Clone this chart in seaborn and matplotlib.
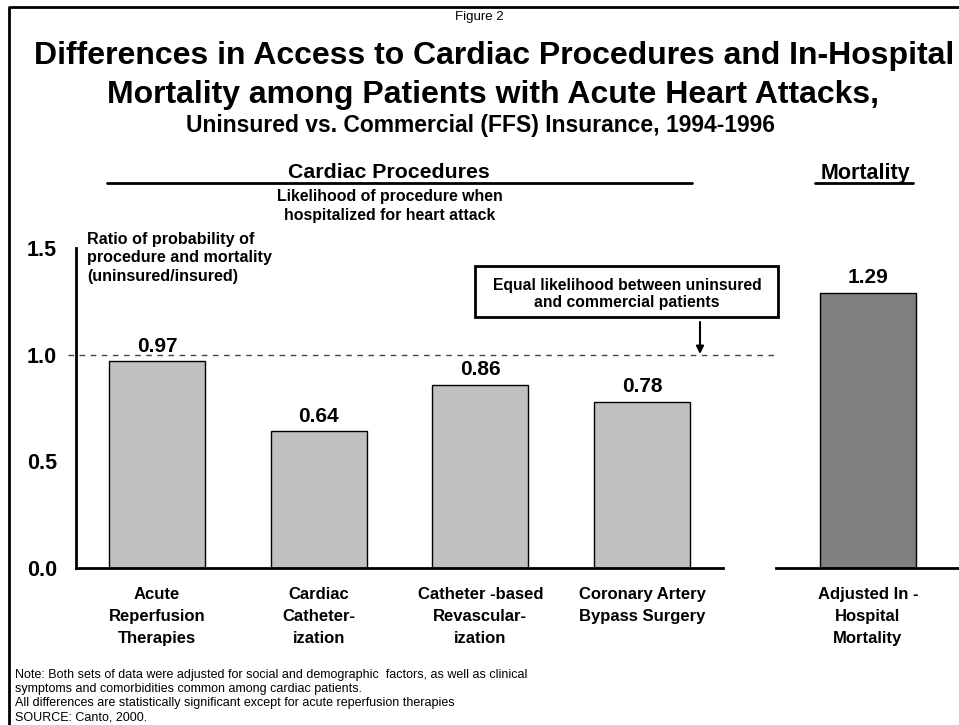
import matplotlib.pyplot as plt
import seaborn as sns
from matplotlib.lines import Line2D
from matplotlib.patches import Rectangle
from matplotlib.transforms import blended_transform_factory

# data
procedures = ['Acute\nReperfusion\nTherapies', 'Cardiac\nCatheter-\nization',
              'Catheter -based\nRevascular-\nization', 'Coronary Artery\nBypass Surgery']
procedure_ratio = [0.97, 0.64, 0.86, 0.78]
mortality = ['Adjusted In -\nHospital\nMortality']
mortality_ratio = [1.29]
y_ticks = [0.0, 0.5, 1.0, 1.5]
notes = ['Note: Both sets of data were adjusted for social and demographic  factors, as well as clinical',
         'symptoms and comorbidities common among cardiac patients.',
         'All differences are statistically significant except for acute reperfusion therapies',
         'SOURCE: Canto, 2000.']

sns.set_style('white')
plt.rcParams['font.family'] = ['Liberation Sans', 'DejaVu Sans']
plt.rcParams['text.color'] = 'black'
plt.rcParams['xtick.color'] = 'black'
plt.rcParams['ytick.color'] = 'black'

W, H = 959, 725
fig = plt.figure(figsize=(W / 100, H / 100), dpi=100)


def fx(x):
    return x / W


def fy(y):
    return 1 - y / H


# axes placed in pixel positions
ax1 = fig.add_axes([fx(76), fy(568), fx(723) - fx(76), fy(248) - fy(568)])
ax2 = fig.add_axes([fx(776), fy(568), fx(959) - fx(776), fy(248) - fy(568)])

sns.barplot(x=procedures, y=procedure_ratio, color='#C0C0C0', edgecolor='black',
            linewidth=1, width=0.593, saturation=1, ax=ax1)
sns.barplot(x=mortality, y=mortality_ratio, color='#808080', edgecolor='black',
            linewidth=1, width=0.593, saturation=1, ax=ax2)

for ax in (ax1, ax2):
    ax.set_ylim(0, 1.5)
    for side in ['top', 'right']:
        ax.spines[side].set_visible(False)
    ax.spines['bottom'].set_linewidth(2)
    ax.spines['bottom'].set_color('black')
    ax.tick_params(axis='x', length=0, pad=14)
    for lbl in ax.get_xticklabels():
        lbl.set_fontsize(12)
        lbl.set_fontweight('bold')
        lbl.set_linespacing(1.55)
    ax.bar_label(ax.containers[0], fmt='%.2f', padding=4, fontsize=15, fontweight='bold')
    ax.set_ylabel('')

ax1.set_xlim(-0.5, 3.5)
ax2.set_xlim(-0.568, 0.562)
ax2.spines['left'].set_visible(False)
ax2.set_yticks([])

ax1.spines['left'].set_linewidth(2)
ax1.spines['left'].set_color('black')
ax1.set_yticks(y_ticks)
ax1.set_yticklabels([f'{v:.1f}' for v in y_ticks], fontsize=15.5, fontweight='bold')
ax1.tick_params(axis='y', length=0, pad=13.5)

# dashed reference line at 1.0 across both panels
tr = blended_transform_factory(fig.transFigure, ax1.transData)
ax1.add_line(Line2D([fx(68), fx(948)], [1.0, 1.0], transform=tr, color='#444444',
                    linewidth=1, dashes=(4, 4), clip_on=False, zorder=0))

# border of the slide
fig.add_artist(Line2D([fx(9), fx(9), 1], [0, fy(7), fy(7)], color='black', linewidth=2))

# titles
fig.text(0.5, fy(17), 'Figure 2', ha='center', va='center', fontsize=9.5)
fig.text(fx(494), fy(64), 'Differences in Access to Cardiac Procedures and In-Hospital',
         ha='center', va='baseline', fontsize=23, fontweight='bold')
fig.text(fx(493), fy(103), 'Mortality among Patients with Acute Heart Attacks,',
         ha='center', va='baseline', fontsize=23, fontweight='bold')
fig.text(fx(480), fy(132), 'Uninsured vs. Commercial (FFS) Insurance, 1994-1996',
         ha='center', va='baseline', fontsize=16.5, fontweight='bold')

# section headers
fig.text(fx(389), fy(173), 'Cardiac Procedures', ha='center', va='center', fontsize=15.3, fontweight='bold')
fig.add_artist(Line2D([fx(107), fx(692)], [fy(183), fy(183)], color='black', linewidth=2))
fig.text(fx(390), fy(206), 'Likelihood of procedure when\nhospitalized for heart attack',
         ha='center', va='center', fontsize=11.4, fontweight='bold', linespacing=1.4)
fig.text(fx(865), fy(173), 'Mortality', ha='center', va='center', fontsize=15.5, fontweight='bold')
fig.add_artist(Line2D([fx(815), fx(913)], [fy(183), fy(183)], color='black', linewidth=2))

# y axis label
fig.text(fx(87), fy(258), 'Ratio of probability of\nprocedure and mortality\n(uninsured/insured)',
         ha='left', va='center', fontsize=11.6, fontweight='bold', linespacing=1.3)

# callout box and arrow
fig.add_artist(Rectangle((fx(475), fy(317)), fx(778) - fx(475), fy(266) - fy(317),
                         transform=fig.transFigure, fill=False, edgecolor='black', linewidth=2))
fig.text(fx(627), fy(294), 'Equal likelihood between uninsured\nand commercial patients',
         ha='center', va='center', fontsize=11.3, fontweight='bold', linespacing=1.22)
fig.add_artist(plt.Annotation('', xy=(fx(700), fy(354)), xytext=(fx(700), fy(322)),
                              xycoords='figure fraction', textcoords='figure fraction',
                              arrowprops=dict(arrowstyle='-|>', color='black', lw=1.5,
                                              mutation_scale=11, shrinkA=0, shrinkB=0)))

# notes
for i, line in enumerate(notes):
    fig.text(fx(15), fy(675 + i * 14), line, ha='left', va='center', fontsize=9)

plt.savefig('out.png', dpi=100)
plt.close()
